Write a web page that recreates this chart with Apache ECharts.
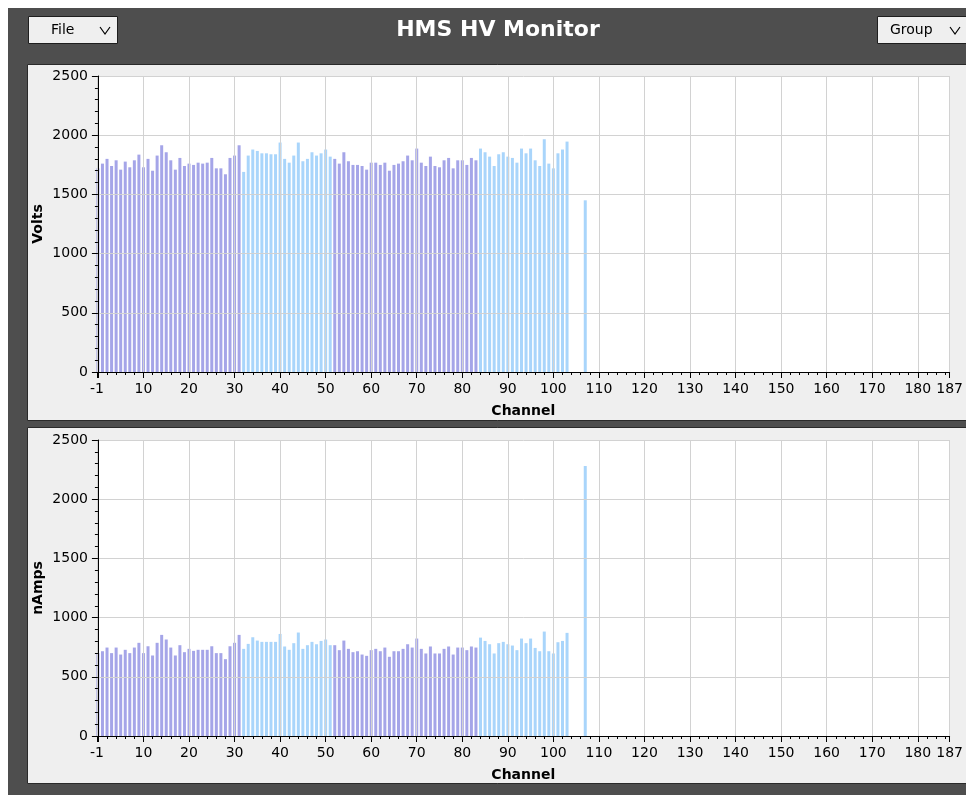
<!DOCTYPE html>
<html>
<head>
<meta charset="utf-8">
<title>HMS HV Monitor</title>
<script src="https://cdn.jsdelivr.net/npm/echarts@6/dist/echarts.min.js"></script>
<style>
  html, body { margin: 0; padding: 0; background: #fff; }
  #hv-chart { width: 966px; height: 798px; }
</style>
</head>
<body>
<div id="hv-chart"></div>
<script>
// channel numbers that carry a reading
const channels = [
  0, 1, 2, 3, 4, 5, 6, 7, 8, 9, 10, 11, 12, 13, 14, 15, 16, 17, 18, 19,
  20, 21, 22, 23, 24, 25, 26, 27, 28, 29, 30, 31, 32, 33, 34, 35, 36, 37, 38, 39,
  40, 41, 42, 43, 44, 45, 46, 47, 48, 49, 50, 51, 52, 53, 54, 55, 56, 57, 58, 59,
  60, 61, 62, 63, 64, 65, 66, 67, 68, 69, 70, 71, 72, 73, 74, 75, 76, 77, 78, 79,
  80, 81, 82, 83, 84, 85, 86, 87, 88, 89, 90, 91, 92, 93, 94, 95, 96, 97, 98, 99,
  100, 101, 102, 103, 107
]
const volts = [
  1720, 1760, 1800, 1740, 1788, 1709, 1777, 1729, 1788, 1836,
  1729, 1800, 1700, 1828, 1915, 1856, 1788, 1709, 1808, 1740,
  1760, 1749, 1768, 1760, 1768, 1808, 1720, 1720, 1670, 1808,
  1828, 1915, 1690, 1828, 1879, 1867, 1847, 1847, 1839, 1839,
  1938, 1800, 1768, 1828, 1938, 1780, 1800, 1856, 1828, 1847,
  1879, 1819, 1800, 1760, 1856, 1780, 1749, 1749, 1740, 1709,
  1768, 1768, 1749, 1768, 1700, 1749, 1760, 1780, 1828, 1788,
  1887, 1768, 1740, 1819, 1740, 1729, 1788, 1808, 1720, 1788,
  1788, 1749, 1808, 1788, 1887, 1856, 1819, 1740, 1839, 1856,
  1819, 1808, 1768, 1887, 1847, 1887, 1788, 1740, 1966, 1760,
  1720, 1847, 1879, 1946, 1450
]
const nAmps = [
  700, 716, 747, 700, 747, 688, 728, 700, 747, 787,
  700, 758, 680, 787, 854, 815, 747, 680, 767, 708,
  736, 719, 728, 728, 728, 758, 700, 700, 649, 758,
  787, 854, 736, 778, 834, 806, 795, 795, 795, 795,
  862, 756, 728, 784, 874, 736, 767, 795, 775, 803,
  815, 767, 767, 725, 806, 736, 708, 716, 688, 677,
  725, 736, 716, 747, 669, 716, 716, 736, 775, 747,
  823, 736, 697, 756, 697, 697, 736, 756, 688, 747,
  747, 725, 756, 747, 831, 803, 775, 697, 784, 795,
  775, 764, 725, 823, 784, 823, 744, 716, 882, 716,
  697, 792, 803, 871, 2280
]
// channel ranges drawn in the darker (purple) colour, the rest are light blue
const purpleRanges = [[0, 31], [52, 83]]

const PURPLE = '#a5a5e8'
const BLUE = '#a9d5fb'
const FONT = 'DejaVu Sans'

const barColor = (ch) => purpleRanges.some(r => ch >= r[0] && ch <= r[1]) ? PURPLE : BLUE

const myChart = echarts.init(document.getElementById('hv-chart'))

const xAxisFor = (idx) => ({
  type: 'value',
  gridIndex: idx,
  min: -0.2,
  max: 187,
  splitNumber: 19,
  name: 'Channel',
  nameLocation: 'middle',
  nameGap: 32,
  nameTextStyle: { fontFamily: FONT, fontWeight: 'bold', fontSize: 14, color: '#000' },
  axisLine: { show: true, onZero: false, lineStyle: { color: '#000', width: 1 } },
  axisTick: { show: true, length: 6, lineStyle: { color: '#000' } },
  minorTick: { show: true, splitNumber: 5, length: 3, lineStyle: { color: '#000' } },
  axisLabel: {
    margin: 10,
    fontFamily: FONT,
    fontSize: 14,
    color: '#000',
    showMinLabel: true,
    showMaxLabel: true,
    formatter: (v) => (v === 0 ? '' : v < 0 ? String(Math.floor(v)) : String(Math.round(v))),
  },
  splitLine: { show: true, lineStyle: { color: '#d2d2d2', width: 1 } },
  z: 3,
})

const yAxisFor = (idx, name) => ({
  type: 'value',
  gridIndex: idx,
  min: 0,
  max: 2500,
  interval: 500,
  name: name,
  nameLocation: 'middle',
  nameMoveOverlap: false,
  nameGap: 52,
  nameTextStyle: { fontFamily: FONT, fontWeight: 'bold', fontSize: 14, color: '#000' },
  axisLine: { show: true, lineStyle: { color: '#000', width: 1 } },
  axisTick: { show: true, length: 6, lineStyle: { color: '#000' } },
  minorTick: { show: true, splitNumber: 5, length: 3, lineStyle: { color: '#000' } },
  axisLabel: { margin: 9, fontFamily: FONT, fontSize: 14, color: '#000', formatter: (v) => String(v) },
  splitLine: { show: true, lineStyle: { color: '#d2d2d2', width: 1 } },
  z: 3,
})

const seriesFor = (idx, values) => ({
  type: 'bar',
  xAxisIndex: idx,
  yAxisIndex: idx,
  barWidth: 3,
  data: channels.map((ch, i) => [ch, values[i]]),
  itemStyle: { color: (p) => barColor(p.value[0]) },
  emphasis: { disabled: true },
})

// little drop-down look-alikes in the header
const chevron = (x, y) => ({
  type: 'polyline',
  z: 20,
  shape: { points: [[x, y], [x + 5, y + 7], [x + 10, y]] },
  style: { stroke: '#000', lineWidth: 1.2, fill: null },
})

const option = {
  animation: false,
  textStyle: { fontFamily: FONT },
  graphic: [
    // window frame
    { type: 'rect', z: -20, shape: { x: 8, y: 8, width: 958, height: 787 }, style: { fill: '#4e4e4e' } },
    // panels
    { type: 'rect', z: -10, shape: { x: 27.5, y: 64.5, width: 945, height: 356 }, style: { fill: '#efefef', stroke: '#2a2a2a', lineWidth: 1 } },
    { type: 'rect', z: -10, shape: { x: 27.5, y: 427.5, width: 945, height: 356 }, style: { fill: '#efefef', stroke: '#2a2a2a', lineWidth: 1 } },
    // header
    { type: 'text', z: 20, x: 498, y: 30, style: { text: 'HMS HV Monitor', fill: '#fff', font: 'bold 22px "DejaVu Sans"', align: 'center', verticalAlign: 'middle' } },
    { type: 'rect', z: 20, shape: { x: 28.5, y: 16.5, width: 89, height: 27 }, style: { fill: '#efefef', stroke: '#1e1e1e', lineWidth: 1 } },
    { type: 'text', z: 21, x: 51, y: 30, style: { text: 'File', fill: '#000', font: '14px "DejaVu Sans"', verticalAlign: 'middle' } },
    chevron(100, 27),
    { type: 'rect', z: 20, shape: { x: 877.5, y: 16.5, width: 95, height: 27 }, style: { fill: '#efefef', stroke: '#1e1e1e', lineWidth: 1 } },
    { type: 'text', z: 21, x: 890, y: 30, style: { text: 'Group', fill: '#000', font: '14px "DejaVu Sans"', verticalAlign: 'middle' } },
    chevron(950, 27),
  ],
  grid: [
    { left: 97, right: 14, top: 76, height: 296, show: true, backgroundColor: '#fff', borderWidth: 0 },
    { left: 97, right: 14, top: 440, height: 296, show: true, backgroundColor: '#fff', borderWidth: 0 },
  ],
  xAxis: [xAxisFor(0), xAxisFor(1)],
  yAxis: [yAxisFor(0, 'Volts'), yAxisFor(1, 'nAmps')],
  series: [seriesFor(0, volts), seriesFor(1, nAmps)],
}

myChart.setOption(option)
</script>
</body>
</html>
